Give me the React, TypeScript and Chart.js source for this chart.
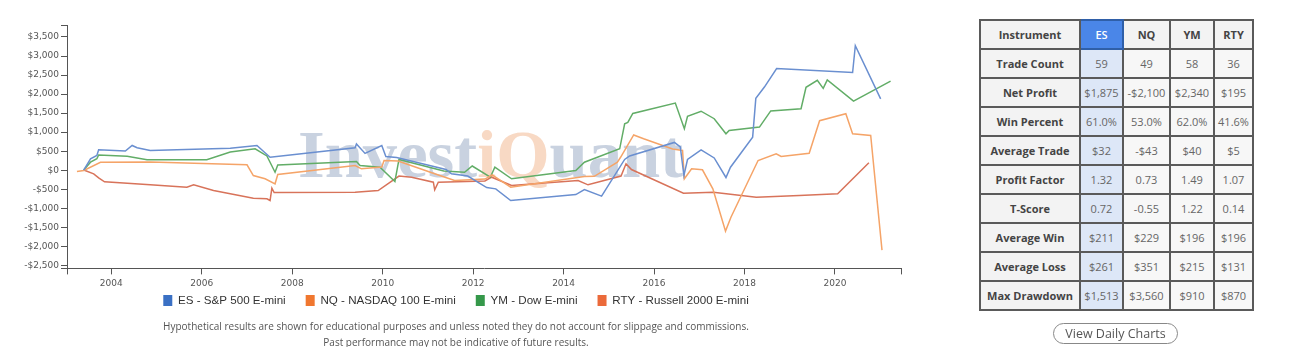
import React, { useEffect, useRef } from 'react';
import { Chart, registerables } from 'chart.js';

Chart.register(...registerables);

// ---------- chart data ----------
const seriesNames = ['ES - S&P 500 E-mini', 'NQ - NASDAQ 100 E-mini', 'YM - Dow E-mini', 'RTY - Russell 2000 E-mini'];

const esYears = [2003.39, 2003.54, 2003.68, 2003.72, 2004.31, 2004.46, 2004.57, 2004.86, 2006.63, 2007.22, 2007.51, 2009.39, 2009.42, 2009.61, 2009.98, 2010.07, 2010.31, 2011.40, 2011.52, 2011.88, 2012.30, 2012.50, 2012.83, 2014.27, 2014.46, 2014.84, 2015.35, 2015.46, 2016.45, 2016.58, 2016.66, 2016.74, 2017.04, 2017.33, 2017.59, 2017.69, 2018.18, 2018.25, 2018.44, 2018.71, 2020.39, 2020.45, 2021.01];
const esValues = [0, 300, 387, 537, 505, 650, 590, 518, 580, 650, 342, 590, 690, 440, 650, 360, 334, 18, -95, -153, -455, -490, -797, -640, -508, -680, 282, 374, 730, 610, -140, 282, 532, 321, -192, 79, 868, 1887, 2185, 2669, 2566, 3269, 1875];

const nqYears = [2003.24, 2003.39, 2003.76, 2004.86, 2007.00, 2007.14, 2007.40, 2007.62, 2007.68, 2009.39, 2009.53, 2009.98, 2010.03, 2010.34, 2011.15, 2011.59, 2012.26, 2012.42, 2012.83, 2014.46, 2014.68, 2015.19, 2015.26, 2015.55, 2015.77, 2016.41, 2016.63, 2016.67, 2016.83, 2017.07, 2017.30, 2017.58, 2017.70, 2018.30, 2018.70, 2018.81, 2019.43, 2019.66, 2020.24, 2020.39, 2020.79, 2021.04];
const nqValues = [-34, -8, 210, 216, 142, -140, -226, -358, -113, 124, 37, 84, 255, 242, -95, -271, -232, -126, -447, -166, -160, 210, 340, 926, 826, 558, 518, -226, 37, 10, -490, -1600, -1237, 255, 432, 360, 447, 1300, 1484, 958, 913, -2100];

const ymYears = [2003.39, 2003.54, 2003.68, 2003.72, 2004.35, 2004.79, 2006.11, 2006.63, 2007.18, 2007.44, 2007.62, 2007.68, 2009.42, 2009.50, 2009.94, 2010.27, 2010.36, 2011.35, 2011.81, 2011.98, 2012.38, 2012.48, 2012.85, 2014.27, 2014.46, 2015.24, 2015.35, 2015.42, 2015.53, 2016.47, 2016.67, 2016.74, 2017.04, 2017.33, 2017.59, 2017.66, 2018.33, 2018.58, 2019.25, 2019.36, 2019.61, 2019.74, 2019.83, 2020.41, 2021.23];
const ymValues = [5, 210, 300, 400, 368, 274, 274, 479, 563, 374, -53, 137, 229, 124, 79, -297, 282, -21, -53, 110, -184, 79, -226, -8, 210, 563, 1221, 1255, 1492, 1763, 1090, 1413, 1550, 1353, 958, 1045, 1132, 1558, 1616, 2177, 2361, 2150, 2374, 1816, 2340];

const rtyYears = [2003.39, 2003.61, 2003.72, 2003.85, 2004.86, 2005.67, 2005.82, 2006.26, 2007.14, 2007.44, 2007.51, 2007.55, 2007.60, 2009.39, 2009.90, 2010.36, 2010.64, 2011.12, 2011.15, 2011.23, 2012.26, 2012.41, 2012.85, 2014.32, 2014.54, 2015.27, 2015.38, 2015.50, 2016.65, 2017.31, 2018.26, 2019.21, 2020.06, 2020.75];
const rtyValues = [5, -95, -200, -305, -384, -447, -384, -534, -737, -753, -797, -474, -587, -579, -534, -153, -184, -316, -516, -316, -284, -184, -403, -271, -384, -153, 168, 18, -605, -579, -711, -666, -621, 195];

const xTickYears = [2004, 2006, 2008, 2010, 2012, 2014, 2016, 2018, 2020];
const yTickValues = [-2500, -2000, -1500, -1000, -500, 0, 500, 1000, 1500, 2000, 2500, 3000, 3500];
const X_MIN = 2003.02;
const X_MAX = 2021.46;
const Y_MIN = -2580;
const Y_MAX = 3815;

const lineColors = ['#6a8fd0', '#f5a468', '#62ad67', '#d8735a'];
const legendColors = ['#3a70c4', '#f0772f', '#35984a', '#eb6a3a'];

// ---------- table data ----------
const statColumns = ['ES', 'NQ', 'YM', 'RTY'];
const statLabels = ['Trade Count', 'Net Profit', 'Win Percent', 'Average Trade', 'Profit Factor', 'T-Score', 'Average Win', 'Average Loss', 'Max Drawdown'];
const esStats = ['59', '$1,875', '61.0%', '$32', '1.32', '0.72', '$211', '$261', '$1,513'];
const nqStats = ['49', '-$2,100', '53.0%', '-$43', '0.73', '-0.55', '$229', '$351', '$3,560'];
const ymStats = ['58', '$2,340', '62.0%', '$40', '1.49', '1.22', '$196', '$215', '$910'];
const rtyStats = ['36', '$195', '41.6%', '$5', '1.07', '0.14', '$196', '$131', '$870'];
const statColumnsValues = [esStats, nqStats, ymStats, rtyStats];

const fmtMoney = (v: number) => (v < 0 ? '-$' : '$') + Math.abs(v).toLocaleString('en-US');

const LEGEND_PADDING = 20;
const LEGEND_FONT = 11.6;
const LEGEND_BOX_H = 11;

const watermarkPlugin = {
  id: 'watermark',
  beforeDatasetsDraw(chart: any) {
    const { ctx, chartArea } = chart;
    ctx.save();
    const left = chartArea.left + 231;
    const baseline = chartArea.top + 152;
    const targetWidth = 385;
    ctx.font = 'bold 68px "Liberation Serif", "Times New Roman", serif';
    ctx.textBaseline = 'alphabetic';
    const total = ctx.measureText('InvestiQuant').width;
    ctx.translate(left, baseline);
    ctx.scale(targetWidth / total, 1);
    const parts: [string, string][] = [['Invest', '#c9d2e0'], ['iQ', '#f8d9c4'], ['uant', '#c9d2e0']];
    let x = 0;
    for (const [t, c] of parts) {
      ctx.fillStyle = c;
      ctx.fillText(t, x, 0);
      x += ctx.measureText(t).width;
    }
    ctx.restore();
  },
};

// moves the legend row closer to the x axis (the wide item padding would otherwise push it down)
const legendShiftPlugin = {
  id: 'legendShift',
  afterLayout(chart: any) {
    const lg = chart.legend;
    if (!lg) return;
    const itemH = Math.max(LEGEND_FONT, LEGEND_BOX_H);
    const wantedTop = chart.chartArea.bottom + 32 - LEGEND_PADDING - itemH / 2;
    const dy = lg.top - wantedTop;
    lg.top -= dy;
    lg.bottom -= dy;
  },
};

export default function App() {
  const canvasRef = useRef<HTMLCanvasElement>(null);

  useEffect(() => {
    const yearsList = [esYears, nqYears, ymYears, rtyYears];
    const valuesList = [esValues, nqValues, ymValues, rtyValues];
    const tickFont = { family: '"DejaVu Sans", Verdana, sans-serif', size: 9, lineHeight: 1.3 };
    const chart = new Chart(canvasRef.current as HTMLCanvasElement, {
      type: 'line',
      data: {
        datasets: seriesNames.map((name, i) => ({
          label: name,
          data: yearsList[i].map((x, j) => ({ x, y: valuesList[i][j] })),
          borderColor: lineColors[i],
          backgroundColor: legendColors[i],
          borderWidth: 1.5,
          pointRadius: 0,
          tension: 0,
          fill: false,
        })),
      },
      options: {
        animation: false,
        responsive: true,
        maintainAspectRatio: false,
        events: [],
        layout: { padding: { left: 3, right: 3, top: 17, bottom: 0 } },
        scales: {
          x: {
            type: 'linear',
            min: X_MIN,
            max: X_MAX,
            afterBuildTicks: (axis: any) => {
              axis.ticks = [X_MIN, ...xTickYears, X_MAX].map((value) => ({ value }));
            },
            afterFit: (axis: any) => {
              axis.height = 26;
            },
            grid: { display: true, drawOnChartArea: false, drawTicks: true, tickLength: 6, color: '#555' },
            border: { display: true, color: '#555', width: 1 },
            ticks: {
              autoSkip: false,
              maxRotation: 0,
              padding: 3,
              color: '#555',
              font: tickFont,
              callback: (v: any) => (xTickYears.includes(v) ? String(v) : ''),
            },
          },
          y: {
            type: 'linear',
            min: Y_MIN,
            max: Y_MAX,
            afterBuildTicks: (axis: any) => {
              axis.ticks = [Y_MIN, ...yTickValues, Y_MAX].map((value) => ({ value }));
            },
            afterFit: (axis: any) => {
              axis.width = 56;
            },
            grid: { display: true, drawOnChartArea: false, drawTicks: true, tickLength: 6, color: '#555' },
            border: { display: true, color: '#555', width: 1 },
            ticks: {
              autoSkip: false,
              padding: 2,
              color: '#555',
              font: tickFont,
              callback: (v: any) => (yTickValues.includes(v) ? fmtMoney(v) : ''),
            },
          },
        },
        plugins: {
          tooltip: { enabled: false },
          legend: {
            position: 'bottom',
            labels: {
              boxWidth: 9,
              boxHeight: LEGEND_BOX_H,
              padding: LEGEND_PADDING,
              color: '#333',
              font: { family: '"Liberation Sans", Arial, sans-serif', size: LEGEND_FONT },
              generateLabels: (c: any) =>
                c.data.datasets.map((ds: any, i: number) => ({
                  text: ds.label,
                  fillStyle: legendColors[i],
                  strokeStyle: legendColors[i],
                  lineWidth: 0,
                  hidden: false,
                  datasetIndex: i,
                  fontColor: '#333',
                })),
            },
          },
        },
      },
      plugins: [watermarkPlugin, legendShiftPlugin],
    } as any);
    return () => chart.destroy();
  }, []);

  const cellBase: React.CSSProperties = {
    border: '2px solid #5a5a5a',
    height: 27,
    padding: 0,
    textAlign: 'center',
    verticalAlign: 'middle',
    fontSize: 11,
    whiteSpace: 'nowrap',
  };
  const labelCell: React.CSSProperties = { ...cellBase, fontWeight: 700, color: '#444', background: '#f3f3f3' };
  const valueCell: React.CSSProperties = { ...cellBase, color: '#666', background: '#f7f7f7' };
  const esCell: React.CSSProperties = { ...cellBase, color: '#666', background: '#dde7f7' };

  return (
    <div style={{ position: 'relative', width: 1283, height: 339, fontFamily: '"Open Sans", sans-serif' }}>
      <div style={{ position: 'absolute', left: 0, top: 0, width: 896, height: 328 }}>
        <canvas ref={canvasRef} />
      </div>
      <div
        style={{
          position: 'absolute',
          left: 0,
          top: 310,
          width: 896,
          textAlign: 'center',
          fontSize: 10,
          lineHeight: '16px',
          color: '#555',
        }}
      >
        <div>Hypothetical results are shown for educational purposes and unless noted they do not account for slippage and commissions.</div>
        <div>Past performance may not be indicative of future results.</div>
      </div>
      <table
        style={{
          position: 'absolute',
          left: 971,
          top: 11,
          width: 273,
          borderCollapse: 'collapse',
          tableLayout: 'fixed',
        }}
      >
        <colgroup>
          <col style={{ width: 100 }} />
          <col style={{ width: 43 }} />
          <col style={{ width: 47 }} />
          <col style={{ width: 44 }} />
          <col style={{ width: 39 }} />
        </colgroup>
        <tbody>
          <tr>
            <td style={labelCell}>Instrument</td>
            {statColumns.map((c, i) => (
              <td
                key={c}
                style={
                  i === 0
                    ? { ...cellBase, background: '#4a86e8', color: '#fff', fontWeight: 600, border: '2px solid #2f5fa8' }
                    : labelCell
                }
              >
                {c}
              </td>
            ))}
          </tr>
          {statLabels.map((lab, r) => (
            <tr key={lab}>
              <td style={labelCell}>{lab}</td>
              {statColumnsValues.map((col, ci) => (
                <td key={ci} style={ci === 0 ? esCell : valueCell}>
                  {col[r]}
                </td>
              ))}
            </tr>
          ))}
        </tbody>
      </table>
      <div
        style={{
          position: 'absolute',
          left: 1045,
          top: 315,
          width: 125,
          height: 21,
          boxSizing: 'border-box',
          border: '1.5px solid #888',
          borderRadius: 11,
          display: 'flex',
          alignItems: 'center',
          justifyContent: 'center',
          fontSize: 12.5,
          color: '#555',
          background: '#fff',
        }}
      >
        View Daily Charts
      </div>
    </div>
  );
}
